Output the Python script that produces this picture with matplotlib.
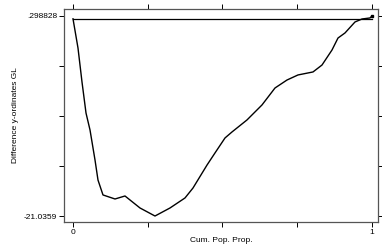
from matplotlib import pyplot
import numpy

# difference of generalized Lorenz ordinates
pop_prop = [0.0, 0.0167, 0.0301, 0.0435, 0.0569, 0.0736, 0.0836, 0.1003, 0.1405,
            0.1739, 0.2241, 0.2742, 0.3244, 0.3746, 0.4013, 0.4482, 0.4749, 0.5084,
            0.5318, 0.5819, 0.6321, 0.6756, 0.7157, 0.7525, 0.8027, 0.8328, 0.8662,
            0.8863, 0.9097, 0.9431, 0.9666, 0.9933, 1.0]
diff_gl = [0.0, -3.115, -6.74, -10.05, -11.86, -15.06, -17.20, -18.79, -19.22,
           -18.90, -20.18, -21.0359, -20.18, -19.11, -18.05, -15.60, -14.31, -12.71,
           -12.07, -10.79, -9.19, -7.38, -6.53, -5.99, -5.67, -4.93, -3.33,
           -2.05, -1.51, -0.34, -0.02, 0.09, 0.298828]
y_min = -21.0359
y_max = 0.298828
x_ticks = [0, 0.25, 0.5, 0.75, 1]
x_tick_labels = ['0', '', '', '', '1']
y_tick_labels = ['-21.0359', '', '', '', '.298828']

pyplot.rcParams['font.family'] = ['Liberation Sans', 'DejaVu Sans']
pyplot.rcParams['axes.unicode_minus'] = False

fig = pyplot.figure(figsize=(3.82, 2.5), dpi=100)
axis = fig.add_axes([64 / 382, 1 - 222 / 250, 314 / 382, 213 / 250])

axis.plot([0, 1], [0, 0], color='black', linewidth=0.9)
axis.plot(pop_prop, diff_gl, color='black', linewidth=1.0)
axis.plot([pop_prop[-1]], [diff_gl[-1]], marker='s', markersize=2, color='black')

axis.set_xlim(-0.0301, 1.0201)
axis.set_ylim(-21.675, 1.0455)

y_ticks = numpy.linspace(y_min, y_max, 5)
axis.set_xticks(x_ticks)
axis.set_xticklabels(x_tick_labels)
axis.set_yticks(y_ticks)
axis.set_yticklabels(y_tick_labels)
axis.tick_params(direction='out', length=3.6, width=0.7, pad=1.5, labelsize=6,
                 top=True, right=True, colors='black')

for spine in axis.spines.values():
    spine.set_color('#555555')
    spine.set_linewidth(0.9)

axis.set_xlabel('Cum. Pop. Prop.', fontsize=6, labelpad=1)
axis.set_ylabel('Difference y-ordinates GL', fontsize=6, labelpad=3)

fig.savefig('out.png', dpi=100)
pyplot.close(fig)
